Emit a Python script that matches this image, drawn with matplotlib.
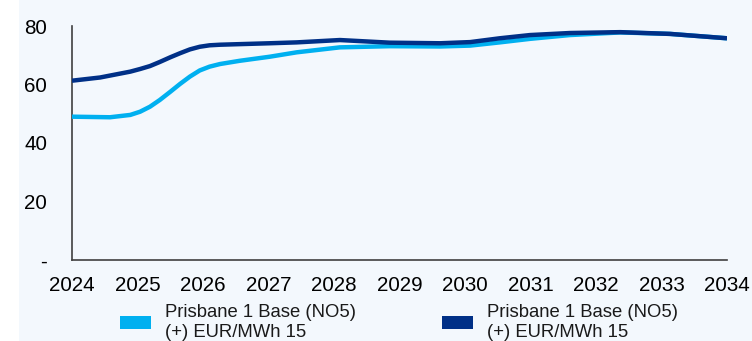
import matplotlib
matplotlib.use("Agg")
import matplotlib.pyplot as plt
from matplotlib.patches import Patch, Rectangle

# Series: Prisbane 1 Base (NO5), EUR/MWh, sampled along the forward curve
light_x = [2024.0, 2024.58, 2024.89, 2025.04, 2025.19, 2025.34, 2025.5, 2025.65,
           2025.8, 2025.95, 2026.1, 2026.26, 2026.56, 2027.02, 2027.43, 2028.09,
           2028.85, 2029.62, 2030.08, 2030.53, 2030.99, 2031.6, 2032.37,
           2033.13, 2034.0]
light_y = [49.0, 48.8, 49.6, 50.7, 52.4, 54.7, 57.5, 60.2,
           62.7, 64.8, 66.1, 67.0, 68.1, 69.5, 71.0, 72.7,
           73.1, 73.0, 73.3, 74.4, 75.6, 76.9, 77.8,
           77.3, 75.8]

dark_x = [2024.0, 2024.43, 2024.89, 2025.04, 2025.19, 2025.34, 2025.5, 2025.65,
          2025.8, 2025.95, 2026.1, 2026.26, 2026.56, 2027.02, 2027.43, 2028.09,
          2028.85, 2029.62, 2030.08, 2030.53, 2030.99, 2031.6, 2032.37,
          2033.13, 2034.0]
dark_y = [61.3, 62.4, 64.4, 65.3, 66.3, 67.7, 69.3, 70.7,
          72.0, 72.9, 73.4, 73.6, 73.8, 74.1, 74.4, 75.2,
          74.3, 74.1, 74.5, 75.8, 76.9, 77.6, 77.9,
          77.3, 75.8]

series_labels = ["Prisbane 1 Base (NO5)\n(+) EUR/MWh 15",
                 "Prisbane 1 Base (NO5)\n(+) EUR/MWh 15"]
x_ticks = list(range(2024, 2035))
y_ticks = [0, 20, 40, 60, 80]
y_tick_labels = ["-", "20", "40", "60", "80"]

LIGHT = "#00b0f0"
DARK = "#003087"
BG = "#f3f8fd"

plt.rcParams["font.family"] = ["Liberation Sans", "DejaVu Sans"]

fig = plt.figure(figsize=(7.52, 3.41), dpi=100, facecolor="white")
fig.patches.append(Rectangle((19 / 752, 0), 1, 1, transform=fig.transFigure,
                             facecolor=BG, edgecolor="none", zorder=-10))

ax = fig.add_axes([72 / 752, 1 - 260 / 341, 655 / 752, 234 / 341])
ax.set_facecolor("none")

line_style = dict(lw=3.2, solid_capstyle="butt", solid_joinstyle="round")
ax.plot(light_x, light_y, color=LIGHT, zorder=3, **line_style)
ax.plot(dark_x, dark_y, color=DARK, zorder=4, **line_style)

ax.set_xlim(2024, 2034)
ax.set_ylim(0, 80)
ax.set_xticks(x_ticks)
ax.set_xticklabels([str(t) for t in x_ticks])
ax.set_yticks(y_ticks)
ax.set_yticklabels(y_tick_labels)
ax.tick_params(axis="both", length=0, labelsize=14.9, colors="black")
ax.tick_params(axis="x", pad=11.5)
ax.tick_params(axis="y", pad=18)

for side in ("top", "right"):
    ax.spines[side].set_visible(False)
for side in ("left", "bottom"):
    ax.spines[side].set_color("#404040")
    ax.spines[side].set_linewidth(1.2)

handles = [Patch(facecolor=LIGHT, edgecolor="none"),
           Patch(facecolor=DARK, edgecolor="none")]
leg = fig.legend(handles, series_labels, ncol=2, loc="upper left",
                 bbox_to_anchor=(120 / 752, 1 - 304 / 341),
                 frameon=False, fontsize=13.3, borderpad=0, borderaxespad=0,
                 handlelength=1.68, handleheight=0.66, handletextpad=0.76,
                 columnspacing=4.65)
for t in leg.get_texts():
    t.set_linespacing(1.2)
    t.set_color("#1a1a1a")

fig.savefig("out.png", dpi=100, facecolor=fig.get_facecolor())
